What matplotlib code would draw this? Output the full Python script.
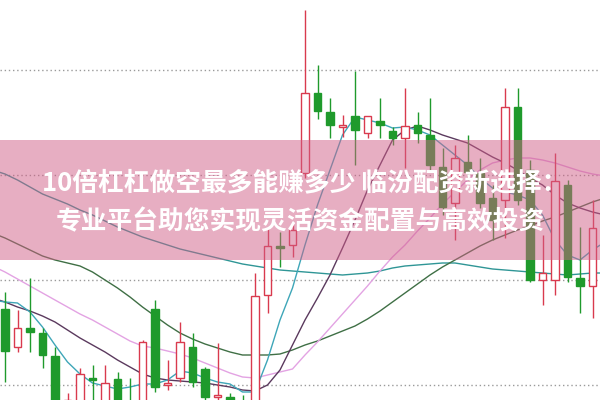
import matplotlib
matplotlib.use("Agg")
import matplotlib.pyplot as plt
from matplotlib.patches import Rectangle
import numpy as np

plt.rcParams["font.family"] = ["Noto Sans CJK SC", "DejaVu Sans"]

# daily candles
opens = [4.91, 4.53, 4.72, 4.67, 4.44, 3.85, 3.98, 4.22, 3.95, 4.21, 3.98, 3.95,
         4.91, 4.15, 4.22, 4.53, 4.31, 4.03, 4.03, 3.98, 3.95, 5.05, 5.54, 5.55,
         6.27, 7.07, 6.88, 6.73, 6.84, 6.67, 6.79, 6.69, 6.62, 6.75, 6.65, 6.33,
         5.97, 6.38, 6.27, 6.02, 6.00, 6.93, 6.30, 5.20, 5.20, 6.15, 5.22, 5.14]
highs = [5.08, 4.90, 5.22, 4.72, 4.53, 4.07, 4.32, 4.35, 4.35, 4.28, 4.22, 4.60,
         5.00, 4.40, 4.78, 4.67, 4.33, 4.57, 4.07, 4.05, 5.27, 5.73, 5.68, 5.77,
         7.90, 7.35, 7.02, 6.85, 7.29, 6.84, 7.02, 6.73, 7.12, 6.88, 7.02, 6.52,
         6.55, 6.65, 6.42, 6.15, 7.12, 7.12, 6.40, 5.65, 6.47, 6.20, 5.73, 6.00]
lows = [4.18, 4.48, 4.48, 4.32, 3.80, 3.75, 3.90, 3.98, 3.90, 3.88, 3.85, 3.90,
        4.08, 4.10, 4.18, 4.13, 3.98, 3.95, 3.90, 3.80, 3.90, 4.87, 5.33, 5.43,
        6.22, 6.81, 6.62, 6.63, 6.35, 6.62, 6.62, 6.55, 6.32, 6.57, 6.30, 5.85,
        5.60, 6.20, 5.92, 5.60, 5.62, 5.95, 5.18, 4.95, 5.05, 5.18, 4.87, 4.82]
closes = [4.49, 4.72, 4.68, 4.45, 3.95, 4.00, 4.26, 4.20, 4.17, 3.95, 3.90, 4.58,
          4.13, 4.17, 4.58, 4.18, 4.03, 4.05, 3.95, 3.88, 5.04, 5.54, 5.52, 5.70,
          7.07, 6.89, 6.75, 6.75, 6.70, 6.84, 6.75, 6.62, 6.74, 6.67, 6.35, 5.93,
          6.42, 6.28, 5.97, 5.80, 6.93, 6.00, 5.20, 5.27, 6.19, 5.23, 5.14, 5.72]

# moving averages, one value per day from the day before the first candle to the day after the last
ma5 = [5.00, 4.98, 4.97, 4.88, 4.73, 4.55, 4.38, 4.26, 4.17, 4.14, 4.11, 4.13,
       4.16, 4.16, 4.20, 4.29, 4.27, 4.22, 4.18, 4.16, 4.08, 4.08, 4.40, 4.80,
       5.12, 5.55, 5.95, 6.30, 6.65, 6.83, 6.80, 6.77, 6.72, 6.73, 6.70, 6.65,
       6.55, 6.45, 6.35, 6.22, 6.12, 6.08, 6.05, 6.00, 5.85, 5.60, 5.45, 5.40,
       5.50, 5.58]
ma10 = [5.02, 4.98, 4.93, 4.89, 4.84, 4.78, 4.70, 4.62, 4.55, 4.48, 4.40, 4.33,
        4.26, 4.22, 4.20, 4.19, 4.18, 4.17, 4.15, 4.13, 4.10, 4.09, 4.15, 4.30,
        4.55, 4.80, 5.02, 5.25, 5.52, 5.80, 6.10, 6.35, 6.60, 6.70, 6.74, 6.70,
        6.65, 6.61, 6.57, 6.50, 6.43, 6.37, 6.30, 6.22, 6.15, 6.05, 5.97, 5.92,
        5.88, 5.85]
ma20 = [5.34, 5.28, 5.21, 5.14, 5.07, 5.00, 4.93, 4.86, 4.80, 4.73, 4.66, 4.59,
        4.54, 4.52, 4.49, 4.46, 4.42, 4.37, 4.32, 4.27, 4.23, 4.22, 4.25, 4.28,
        4.31, 4.45, 4.58, 4.72, 4.86, 5.00, 5.14, 5.29, 5.43, 5.55, 5.69, 5.82,
        5.96, 6.08, 6.20, 6.30, 6.37, 6.40, 6.42, 6.42, 6.40, 6.37, 6.33, 6.29,
        6.26, 6.24]
ma30 = [5.67, 5.62, 5.56, 5.50, 5.44, 5.40, 5.37, 5.34, 5.28, 5.20, 5.12, 5.03,
        4.93, 4.84, 4.75, 4.67, 4.61, 4.56, 4.52, 4.48, 4.45, 4.45, 4.45, 4.46,
        4.50, 4.55, 4.59, 4.64, 4.69, 4.74, 4.81, 4.89, 4.98, 5.07, 5.16, 5.25,
        5.33, 5.40, 5.47, 5.54, 5.60, 5.65, 5.70, 5.74, 5.79, 5.83, 5.88, 5.93,
        5.98, 6.02]
ma60 = [6.30, 6.26, 6.20, 6.13, 6.06, 6.01, 5.96, 5.90, 5.85, 5.79, 5.73, 5.68,
        5.63, 5.59, 5.55, 5.51, 5.48, 5.45, 5.42, 5.39, 5.36, 5.34, 5.32, 5.30,
        5.29, 5.28, 5.27, 5.26, 5.25, 5.26, 5.27, 5.29, 5.32, 5.34, 5.35, 5.36,
        5.37, 5.37, 5.35, 5.33, 5.31, 5.30, 5.29, 5.28, 5.27, 5.26, 5.25, 5.26,
        5.27, 5.27]

grid_levels = [7.30, 6.25, 5.20, 4.15]

title_lines = ["10倍杠杠做空最多能赚多少 临汾配资新选择：",
               "专业平台助您实现灵活资金配置与高效投资"]

UP = "#d93a4e"
DOWN = "#1f9a2c"


def main() -> None:
    fig = plt.figure(figsize=(6.0, 4.0), dpi=100)
    ax = fig.add_axes([0, 0, 1, 1])
    ax.set_xlim(-0.4, len(closes) - 0.4)
    ax.set_ylim(4.0, 8.0)
    ax.axis("off")

    for level in grid_levels:
        ax.axhline(level, color="#9a9a9a", lw=1.0, ls=(0, (1, 2)), zorder=1)

    ma_x = np.arange(-1, len(closes) + 1)
    ax.plot(ma_x, ma60, color="#2f9696", lw=1.0, zorder=2)
    ax.plot(ma_x, ma30, color="#3f6f45", lw=1.0, zorder=2)
    ax.plot(ma_x, ma20, color="#e3a3e3", lw=1.0, zorder=2)
    ax.plot(ma_x, ma10, color="#5b3a5e", lw=1.0, zorder=2)
    ax.plot(ma_x, ma5, color="#3ea6b8", lw=1.0, zorder=2)

    width = 0.62
    for i, (o, h, l, c) in enumerate(zip(opens, highs, lows, closes)):
        up = c >= o
        color = UP if up else DOWN
        ax.vlines(i, l, h, color=color, lw=1.0, zorder=3)
        bottom = min(o, c)
        height = max(abs(c - o), 0.02)
        ax.add_patch(Rectangle((i - width / 2, bottom), width, height,
                               facecolor="white" if up else DOWN,
                               edgecolor=color, lw=1.0, zorder=4))

    # banner over the chart
    fig.add_artist(Rectangle((0, 0.35), 1, 0.30, transform=fig.transFigure,
                             facecolor="#d15f87", alpha=0.5, lw=0, zorder=5))
    fig.text(0.508, 0.543, title_lines[0], ha="center", va="center",
             color="white", fontsize=18.5, fontweight="bold", zorder=6)
    fig.text(0.5, 0.445, title_lines[1], ha="center", va="center",
             color="white", fontsize=18.5, fontweight="bold", zorder=6)

    fig.savefig("out.png", dpi=100)
    plt.close(fig)


if __name__ == "__main__":
    main()
